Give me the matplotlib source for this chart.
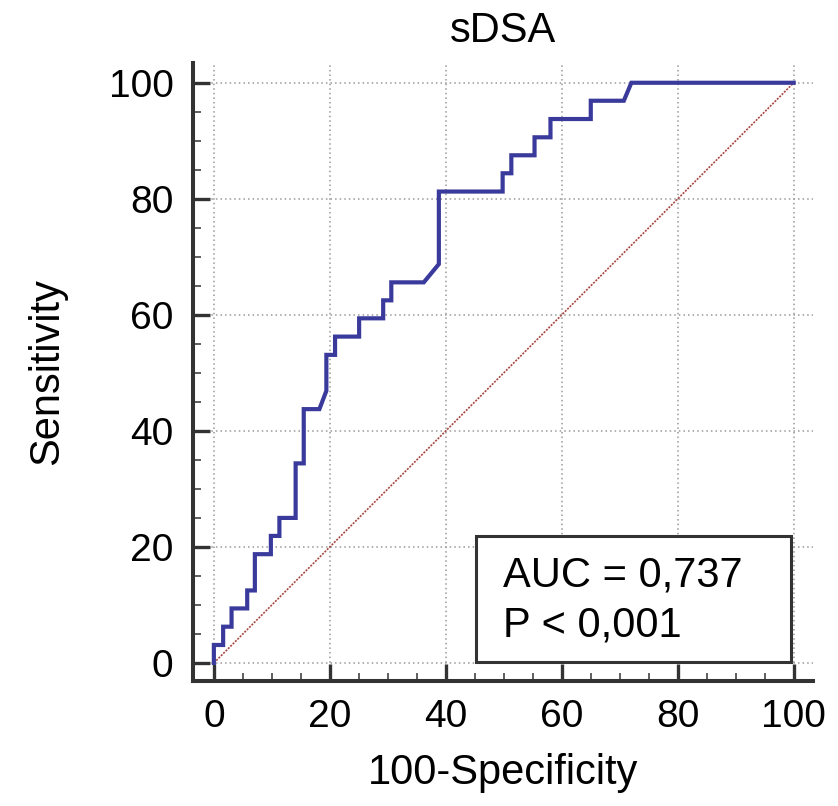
import matplotlib
matplotlib.use("Agg")
import matplotlib.pyplot as plt
from matplotlib.ticker import MultipleLocator
from matplotlib.patches import Rectangle

plt.rcParams['font.family'] = ['Liberation Sans', 'DejaVu Sans']

# ROC curve vertices (100-Specificity, Sensitivity)
fpr = [0, 0, 1.6, 1.6, 3.05, 3.05, 5.75, 5.75, 7.07, 7.07, 9.83, 9.83, 11.3, 11.3,
       14.1, 14.1, 15.5, 15.5, 18.2, 19.4, 19.4, 20.9, 20.9, 25.05, 25.05, 29.2, 29.2,
       30.6, 30.6, 36.2, 38.8, 38.8, 49.8, 49.8, 51.3, 51.3, 55.3, 55.3, 58.05, 58.05,
       65.0, 65.0, 70.7, 72.0, 100]
tpr = [0, 3.1, 3.1, 6.25, 6.25, 9.4, 9.4, 12.5, 12.5, 18.75, 18.75, 21.9, 21.9, 25.0,
       25.0, 34.4, 34.4, 43.75, 43.75, 46.9, 53.1, 53.1, 56.25, 56.25, 59.4, 59.4, 62.5,
       62.5, 65.6, 65.6, 68.75, 81.25, 81.25, 84.4, 84.4, 87.5, 87.5, 90.6, 90.6, 93.75,
       93.75, 96.9, 96.9, 100, 100]
ref_line = [0, 100]
ticks = [0, 20, 40, 60, 80, 100]
auc_text = "AUC = 0,737"
p_text = "P < 0,001"

fig = plt.figure(figsize=(8.38, 8.06), dpi=100)
ax = fig.add_axes([0.2303, 0.1555, 0.7397, 0.7663])

ax.plot(fpr, tpr, color='#3a3a9c', lw=3.0, solid_joinstyle='miter', zorder=4)
ax.plot(ref_line, ref_line, color='#a8463f', lw=1.2, ls=(0, (1.2, 0.8)), zorder=3)

ax.set_xlim(-3.6, 103.3)
ax.set_ylim(-3.05, 103.4)
ax.set_xticks(ticks)
ax.set_yticks(ticks)
ax.xaxis.set_minor_locator(MultipleLocator(5))
ax.yaxis.set_minor_locator(MultipleLocator(5))
ax.grid(True, which='major', color='#999999', ls=(0, (1, 2)), lw=1.1)
ax.set_axisbelow(True)

for s in ['top', 'right']:
    ax.spines[s].set_visible(False)
for s in ['left', 'bottom']:
    ax.spines[s].set_linewidth(2.9)
    ax.spines[s].set_color('#333333')

ax.tick_params(which='major', direction='in', length=12.5, width=2.4, color='#333333',
               labelsize=28)
ax.tick_params(which='minor', direction='in', length=5.8, width=1.1, color='#333333')
ax.tick_params(axis='x', which='major', pad=13)
ax.tick_params(axis='y', which='major', pad=14)

ax.set_title('sDSA', fontsize=30, pad=15)
ax.set_xlabel('100-Specificity', fontsize=30, labelpad=13)
ax.set_ylabel('Sensitivity', fontsize=30, labelpad=30)

# annotation box
ax.add_patch(Rectangle((45.2, 0.2), 54.4, 21.7, facecolor='white', edgecolor='#333333',
                       lw=2.2, zorder=5))
ax.text(49.8, 13.15, auc_text, fontsize=30, va='baseline', ha='left', zorder=6)
ax.text(49.8, 4.5, p_text, fontsize=30, va='baseline', ha='left', zorder=6)

fig.savefig('out.png', dpi=100)
